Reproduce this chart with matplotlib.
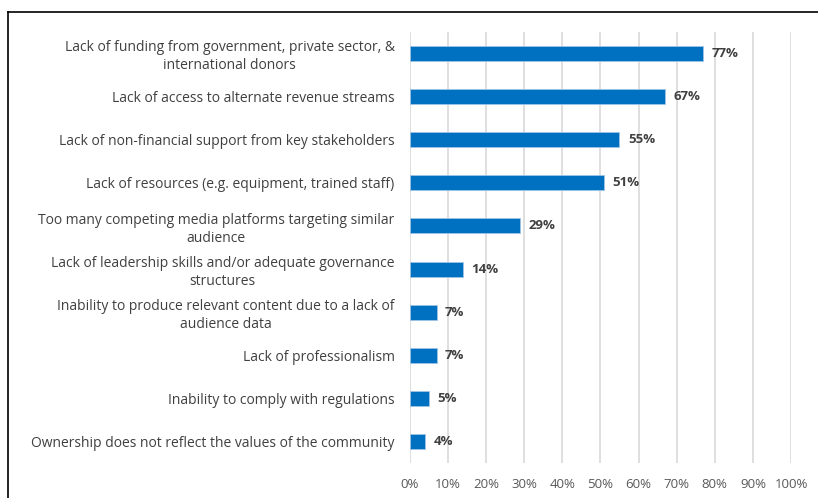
import matplotlib.pyplot as plt
from matplotlib.lines import Line2D

categories = [
    'Lack of funding from government, private sector, &\ninternational donors',
    'Lack of access to alternate revenue streams',
    'Lack of non-financial support from key stakeholders',
    'Lack of resources (e.g. equipment, trained staff)',
    'Too many competing media platforms targeting similar\naudience',
    'Lack of leadership skills and/or adequate governance\nstructures',
    'Inability to produce relevant content due to a lack of\naudience data',
    'Lack of professionalism',
    'Inability to comply with regulations',
    'Ownership does not reflect the values of the community',
]
values = [77, 67, 55, 51, 29, 14, 7, 7, 5, 4]
ticks = [0, 10, 20, 30, 40, 50, 60, 70, 80, 90, 100]

plt.rcParams['font.family'] = ['Open Sans', 'DejaVu Sans']

fig = plt.figure(figsize=(8.18, 4.98), dpi=100)
ax = fig.add_axes([0.501, 0.070, 0.466, 0.866])

ypos = list(range(len(values)))[::-1]
ax.barh(ypos, values, height=0.35, color='#0070C0', edgecolor='#9DC3E6',
        linewidth=0.6, zorder=3)
for y, v in zip(ypos, values):
    ax.text(v + 2.2, y, f'{v}%', va='center', ha='left', fontsize=9.5,
            fontweight='bold', color='#404040')

ax.set_xlim(0, 100)
ax.set_ylim(-0.5, len(values) - 0.5)
ax.set_xticks(ticks)
ax.set_xticklabels([f'{t}%' for t in ticks], fontsize=9.5, color='#595959')
ax.set_yticks(ypos)
ax.set_yticklabels(categories, fontsize=10, color='#404040',
                   multialignment='center', linespacing=1.25)
ax.tick_params(axis='both', length=0)
ax.tick_params(axis='x', pad=11)
ax.tick_params(axis='y', pad=11)
ax.xaxis.grid(True, color='#d9d9d9', linewidth=1.2, zorder=0)
ax.set_axisbelow(True)
for s in ax.spines.values():
    s.set_visible(False)

# outer frame: top and left edges
fig.add_artist(Line2D([8 / 818, 1.0], [1 - 12 / 498, 1 - 12 / 498],
                      transform=fig.transFigure, color='black', linewidth=1.2))
fig.add_artist(Line2D([8 / 818, 8 / 818], [0.0, 1 - 12 / 498],
                      transform=fig.transFigure, color='black', linewidth=1.2))

fig.savefig('out.png', dpi=100)
